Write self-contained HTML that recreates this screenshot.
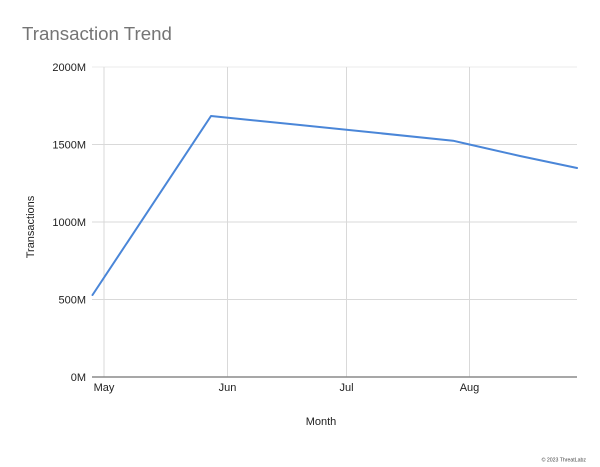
<!DOCTYPE html>
<html><head><meta charset="utf-8"><style>
html,body{margin:0;padding:0;background:#fff;}
svg{display:block;}
text{font-family:"Liberation Sans",Arial,sans-serif;}
</style></head><body>
<svg width="600" height="467" viewBox="0 0 600 467" xmlns="http://www.w3.org/2000/svg">
<rect width="600" height="467" fill="#fff"/>
<text x="22" y="40" font-size="18.7" fill="#757575">Transaction Trend</text>
<g stroke="#d9d9d9" stroke-width="1">
<line x1="92" y1="67" x2="577" y2="67" stroke="#ebebeb"/>
<line x1="92" y1="144.5" x2="577" y2="144.5"/>
<line x1="92" y1="222" x2="577" y2="222"/>
<line x1="92" y1="299.5" x2="577" y2="299.5"/>
</g>
<g stroke="#d9d9d9" stroke-width="1">
<line x1="104" y1="67" x2="104" y2="377"/>
<line x1="227.5" y1="67" x2="227.5" y2="377"/>
<line x1="346.5" y1="67" x2="346.5" y2="377"/>
<line x1="469.5" y1="67" x2="469.5" y2="377"/>
</g>
<line x1="92" y1="377" x2="577" y2="377" stroke="#8a8a8a" stroke-width="1.6"/>
<g font-size="11" fill="#222" text-anchor="end">
<text x="86" y="71">2000M</text>
<text x="86" y="148.5">1500M</text>
<text x="86" y="226">1000M</text>
<text x="86" y="303.5">500M</text>
<text x="86" y="381">0M</text>
</g>
<g font-size="11" fill="#222" text-anchor="middle">
<text x="104" y="391">May</text>
<text x="227.5" y="391">Jun</text>
<text x="346.5" y="391">Jul</text>
<text x="469.5" y="391">Aug</text>
</g>
<text x="321" y="425" font-size="11" fill="#222" text-anchor="middle">Month</text>
<text transform="translate(34,227) rotate(-90)" font-size="11" fill="#222" text-anchor="middle">Transactions</text>
<polyline fill="none" stroke="#4a86d8" stroke-width="2" stroke-linejoin="round" stroke-linecap="round"
 points="92.5,295 211,116 300,125 453,140.7 469.5,144.5 520,156 577,168"/>
<text x="586" y="461.5" font-size="5.2" fill="#444" text-anchor="end">© 2023 ThreatLabz</text>
</svg>
</body></html>
